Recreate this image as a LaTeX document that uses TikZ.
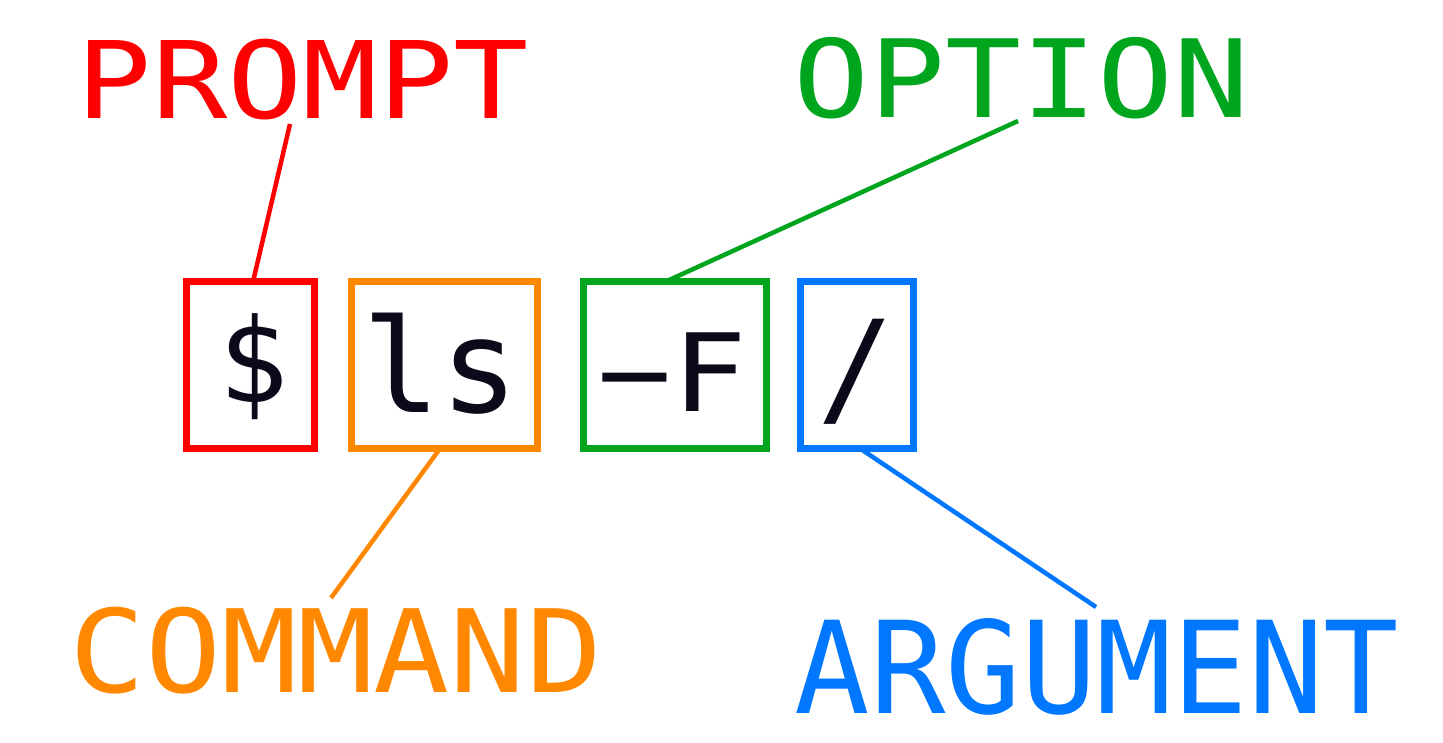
\documentclass[tikz,border=0pt]{standalone}
\usepackage{fontspec}
\usepackage{graphicx}
\newfontfamily\monof{DejaVu Sans Mono}
\usetikzlibrary{calc}
\definecolor{cred}{RGB}{255,0,0}
\definecolor{corange}{RGB}{255,136,0}
\definecolor{cgreen}{RGB}{0,165,30}
\definecolor{cblue}{RGB}{0,119,255}
\definecolor{cink}{RGB}{10,10,26}
\newcommand{\fs}[3]{\scalebox{#2}[1]{\fontsize{#1}{#1}\selectfont\monof #3}}
\tikzset{
  cmdbox/.style={draw, line width=7pt, rectangle, inner sep=0pt, outer sep=0pt, minimum height=167pt},
  txt/.style={anchor=base, inner sep=0pt, outer sep=0pt},
  conn/.style={line width=4.5pt},
}
\begin{document}
\begin{tikzpicture}[x=1pt,y=-1pt]
\useasboundingbox (0,0) rectangle (1443,743);
% boxes
\node[cmdbox, draw=cred, minimum width=128pt] (bp) at (250.5,365) {};
\node[cmdbox, draw=corange, minimum width=186pt] (bc) at (444.5,365) {};
\node[cmdbox, draw=cgreen, minimum width=183pt] (bo) at (675,365) {};
\node[cmdbox, draw=cblue, minimum width=113pt] (ba) at (857,365) {};
% box texts
\node[txt, text=cink] (tp) at (254,402) {\fs{117}{1}{\$}};
\node[txt, text=cink] (tc) at (441,412) {\fs{130}{1}{ls}};
\node[txt, text=cink] (to) at (672,411) {\fs{108}{1.15}{−F}};
\node[txt, text=cink] (ta) at (856.5,412) {\fs{128}{1}{/}};
% labels
\node[txt, text=cred] (lp) at (303,119) {\fs{107}{1.17}{PROMPT}};
\node[txt, text=cgreen] (lo) at (1021.5,118) {\fs{108}{1.17}{OPTION}};
\node[txt, text=corange] (lc) at (335.7,692.5) {\fs{115}{1.10}{COMMAND}};
\node[txt, text=cblue] (la) at (1097,713) {\fs{128}{0.98}{ARGUMENT}};
% connector ends
\coordinate (ep) at (290,124);
\coordinate (eo) at (1018,121);
\coordinate (ec) at (331,598);
\coordinate (ea) at (1096,607);
\draw[conn, cred] (ep) -- ($(bp.north west)!0.52!(bp.north east)$);
\draw[conn, cgreen] (eo) -- ($(bo.north west)!0.45!(bo.north east)$);
\draw[conn, corange] (ec) -- ($(bc.south west)!0.476!(bc.south east)$);
\draw[conn, cblue] (ea) -- ($(ba.south west)!0.527!(ba.south east)$);
\end{tikzpicture}
\end{document}
